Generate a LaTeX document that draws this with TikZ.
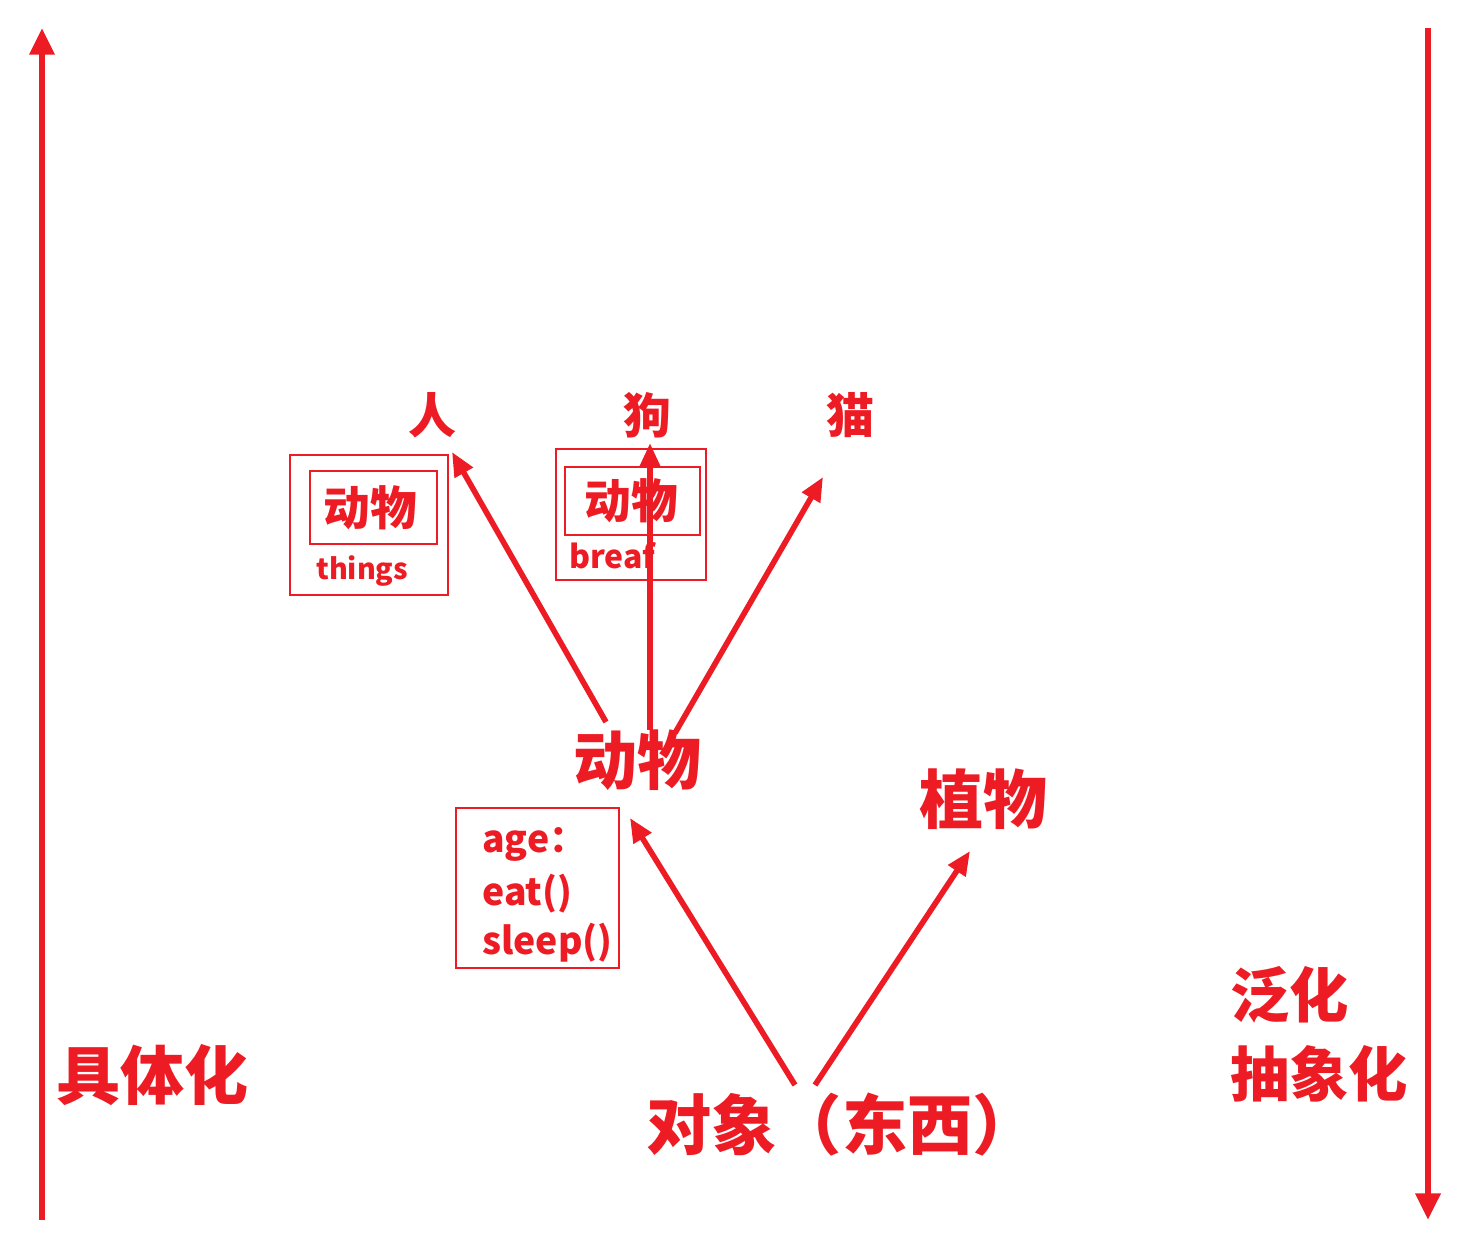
\documentclass[tikz,border=0pt]{standalone}
\usepackage{fontspec}
\setmainfont{Noto Sans CJK SC}
\usetikzlibrary{arrows.meta}
\definecolor{pr}{RGB}{237,28,36}
\tikzset{
  lbl/.style={text=pr, font=\bfseries\fontsize{#1}{#1}\selectfont, inner sep=0pt},
  bigarrow/.style={draw=pr, line width=5pt, -{Triangle[length=20pt,width=18pt]}},
  arr/.style={draw=pr, line width=4.2pt, -{Triangle[length=18pt,width=15pt]}},
  frame/.style={draw=pr, line width=1.9pt},
}
\begin{document}
\begin{tikzpicture}[x=0.75pt,y=-0.75pt]
\useasboundingbox (0,0) rectangle (1482,1254);
% side arrows
\coordinate (lb) at (42,1220);
\coordinate (lt) at (42,28);
\coordinate (rt) at (1428,28);
\coordinate (rb) at (1428,1220);
\draw[bigarrow] (lb) -- (lt);
\draw[bigarrow] (rt) -- (rb);
% side labels
\node[lbl=48pt] (concrete) at (152,1075) {具体化};
\node[lbl=44.5pt, anchor=west] (gen) at (1230,995) {泛化};
\node[lbl=44.5pt, anchor=west] (abs) at (1230,1074) {抽象化};
% main labels
\node[lbl=49pt, anchor=west] (obj) at (646,1125) {对象（东西）};
\node[lbl=48pt] (animal) at (637,760) {动物};
\node[lbl=48pt] (plant) at (983,799) {植物};
\node[lbl=36pt] (ren) at (432,415) {人};
\node[lbl=36pt] (gou) at (647,415) {狗};
\node[lbl=36pt] (mao) at (850,415) {猫};
% box left
\draw[frame] (290,455) rectangle (448,595);
\draw[frame] (310,471) rectangle (437,544);
\node[lbl=35pt] (a1) at (370,508) {动物};
\node[lbl=21.5pt, anchor=west] (things) at (316,571) {things};
% box middle
\draw[frame] (556,449) rectangle (706,580);
\draw[frame] (565,467) rectangle (700,535);
\node[lbl=35pt] (a2) at (631,501) {动物};
\node[lbl=24pt, anchor=west] (breaf) at (569,556) {breaf};
% attribute box
\draw[frame] (456,808) rectangle (619,968);
\node[lbl=28pt, anchor=west] (age) at (482,844) {age：};
\node[lbl=28pt, anchor=west] (eat) at (482,894) {eat()};
\node[lbl=28pt, anchor=west] (sleep) at (482,943) {sleep()};
% connectors
\coordinate (s1) at (606,722);
\coordinate (t1) at (452,452);
\coordinate (s2) at (650,730);
\coordinate (t2) at (650,443);
\coordinate (s3) at (675,733);
\coordinate (t3) at (823,477);
\coordinate (s4) at (795,1085);
\coordinate (t4) at (630,818);
\coordinate (s5) at (815,1085);
\coordinate (t5) at (970,851);
\draw[arr] (s1) -- (t1);
\draw[arr] (s2) -- (t2);
\draw[arr] (s3) -- (t3);
\draw[arr] (s4) -- (t4);
\draw[arr] (s5) -- (t5);
\end{tikzpicture}
\end{document}
